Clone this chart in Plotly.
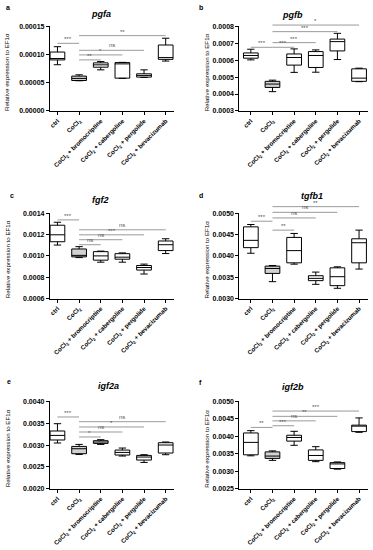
import plotly.graph_objects as go

# ---------------- data ----------------
groups = ["ctrl", "CoCl<sub>2</sub>", "CoCl<sub>2</sub> + bromocriptine",
          "CoCl<sub>2</sub> + cabergoline", "CoCl<sub>2</sub> + pergolide",
          "CoCl<sub>2</sub> + bevacizumab"]

# panel a: pgfa
pgfa_min = [0.0000820, 0.0000535, 0.0000729, 0.0000578, 0.0000594, 0.0000885]
pgfa_q1 = [0.0000905, 0.0000540, 0.0000776, 0.0000582, 0.0000600, 0.0000915]
pgfa_med = [0.0000930, 0.0000577, 0.0000818, 0.0000835, 0.0000630, 0.0000947]
pgfa_q3 = [0.0001045, 0.0000618, 0.0000853, 0.0000858, 0.0000659, 0.0001170]
pgfa_max = [0.0001140, 0.0000641, 0.0000876, 0.0000862, 0.0000729, 0.0001290]
pgfa_ticks = [0.0, 0.00005, 0.00010, 0.00015]
pgfa_sig_a = [0, 1, 1, 1, 1]
pgfa_sig_b = [1, 5, 4, 3, 2]
pgfa_sig_y = [0.000120, 0.0001336, 0.0001076, 0.0000994, 0.0000906]
pgfa_sig_t = ["***", "**", "ns", "*", "**"]

# panel b: pgfb
pgfb_min = [0.000602, 0.000414, 0.000528, 0.000529, 0.000604, 0.000473]
pgfb_q1 = [0.000612, 0.000439, 0.000571, 0.000557, 0.000655, 0.000475]
pgfb_med = [0.000628, 0.000459, 0.000616, 0.000628, 0.000710, 0.000494]
pgfb_q3 = [0.000643, 0.000475, 0.000637, 0.000651, 0.000725, 0.000549]
pgfb_max = [0.000665, 0.000482, 0.000667, 0.000661, 0.000759, 0.000553]
pgfb_ticks = [0.0003, 0.0004, 0.0005, 0.0006, 0.0007, 0.0008]
pgfb_sig_a = [0, 1, 1, 1, 1]
pgfb_sig_b = [1, 2, 3, 4, 5]
pgfb_sig_y = [0.0006765, 0.0006765, 0.000704, 0.000769, 0.000808]
pgfb_sig_t = ["***", "***", "***", "***", "*"]

# panel c: fgf2
fgf2_min = [0.001102, 0.000984, 0.000941, 0.000941, 0.000830, 0.001022]
fgf2_q1 = [0.001133, 0.000991, 0.000960, 0.000969, 0.000867, 0.001050]
fgf2_med = [0.001198, 0.001005, 0.001000, 0.000988, 0.000891, 0.001105]
fgf2_q3 = [0.001288, 0.001065, 0.001040, 0.001021, 0.000910, 0.001140]
fgf2_max = [0.001316, 0.001087, 0.001045, 0.001028, 0.000923, 0.001161]
fgf2_ticks = [0.0006, 0.0008, 0.0010, 0.0012, 0.0014]
fgf2_sig_a = [0, 1, 1, 1, 1]
fgf2_sig_b = [1, 5, 4, 3, 2]
fgf2_sig_y = [0.001338, 0.001245, 0.001198, 0.001152, 0.001105]
fgf2_sig_t = ["***", "ns", "***", "ns", "ns"]

# panel d: tgfb1
tgfb1_min = [0.004062, 0.003395, 0.003806, 0.003333, 0.003240, 0.003691]
tgfb1_q1 = [0.004194, 0.003589, 0.003837, 0.003419, 0.003302, 0.003837]
tgfb1_med = [0.004365, 0.003705, 0.004124, 0.003473, 0.003512, 0.004309]
tgfb1_q3 = [0.004682, 0.003760, 0.004434, 0.003535, 0.003720, 0.004402]
tgfb1_max = [0.004737, 0.003775, 0.004527, 0.003620, 0.003744, 0.004605]
tgfb1_ticks = [0.0030, 0.0035, 0.0040, 0.0045, 0.0050]
tgfb1_sig_a = [0, 1, 1, 1, 1]
tgfb1_sig_b = [1, 2, 3, 4, 5]
tgfb1_sig_y = [0.004814, 0.004605, 0.004891, 0.005023, 0.005156]
tgfb1_sig_t = ["***", "**", "ns", "ns", "**"]

# panel e: igf2a
igf2a_min = [0.003047, 0.002786, 0.003015, 0.002749, 0.002603, 0.002779]
igf2a_q1 = [0.003116, 0.002802, 0.003038, 0.002772, 0.002657, 0.002818]
igf2a_med = [0.003221, 0.002916, 0.003070, 0.002832, 0.002726, 0.003001]
igf2a_q3 = [0.003322, 0.002969, 0.003100, 0.002886, 0.002763, 0.003054]
igf2a_max = [0.003489, 0.003015, 0.003123, 0.002932, 0.002779, 0.003070]
igf2a_ticks = [0.0020, 0.0025, 0.0030, 0.0035, 0.0040]
igf2a_sig_a = [0, 1, 1, 1, 1]
igf2a_sig_b = [1, 5, 4, 3, 2]
igf2a_sig_y = [0.003643, 0.003535, 0.003414, 0.003299, 0.003185]
igf2a_sig_t = ["***", "ns", "*", "ns", "*"]

# panel f: igf2b
igf2b_min = [0.003443, 0.003312, 0.003743, 0.003275, 0.003060, 0.004115]
igf2b_q1 = [0.003471, 0.003368, 0.003863, 0.003312, 0.003079, 0.004135]
igf2b_med = [0.003827, 0.003435, 0.003967, 0.003452, 0.003210, 0.004303]
igf2b_q3 = [0.004096, 0.003555, 0.004031, 0.003611, 0.003247, 0.004320]
igf2b_max = [0.004163, 0.003583, 0.004143, 0.003704, 0.003267, 0.004527]
igf2b_ticks = [0.0025, 0.0030, 0.0035, 0.0040, 0.0045, 0.0050]
igf2b_sig_a = [0, 1, 1, 1, 1]
igf2b_sig_b = [1, 2, 3, 4, 5]
igf2b_sig_y = [0.004255, 0.004303, 0.004443, 0.004572, 0.004723]
igf2b_sig_t = ["**", "***", "ns", "**", "***"]

# ---------------- layout geometry ----------------
W, H = 373, 550
FONT = "Liberation Sans, Arial, sans-serif"

def px_x(v):
    return v / W

def px_y(v):
    return 1 - v / H

col_dom = [(px_x(49), px_x(173.8)), (px_x(239), px_x(367.7))]
col_rng = [(-0.35, 5.4), (-0.53, 5.4)]
row_dom = [(px_y(108.3), px_y(22.7)), (px_y(298.3), px_y(212)),
           (px_y(491), px_y(402.5))]

panels = [
    dict(name="pgfa", letter="a", mn=pgfa_min, q1=pgfa_q1, med=pgfa_med, q3=pgfa_q3, mx=pgfa_max,
         ticks=pgfa_ticks, fmt=".5f", sa=pgfa_sig_a, sb=pgfa_sig_b, sy=pgfa_sig_y, st=pgfa_sig_t,
         title_xy=(100, 10), letter_xy=(3, 4)),
    dict(name="pgfb", letter="b", mn=pgfb_min, q1=pgfb_q1, med=pgfb_med, q3=pgfb_q3, mx=pgfb_max,
         ticks=pgfb_ticks, fmt=".4f", sa=pgfb_sig_a, sb=pgfb_sig_b, sy=pgfb_sig_y, st=pgfb_sig_t,
         title_xy=(292, 11), letter_xy=(197, 4)),
    dict(name="fgf2", letter="c", mn=fgf2_min, q1=fgf2_q1, med=fgf2_med, q3=fgf2_q3, mx=fgf2_max,
         ticks=fgf2_ticks, fmt=".4f", sa=fgf2_sig_a, sb=fgf2_sig_b, sy=fgf2_sig_y, st=fgf2_sig_t,
         title_xy=(100, 199), letter_xy=(7, 194)),
    dict(name="tgfb1", letter="d", mn=tgfb1_min, q1=tgfb1_q1, med=tgfb1_med, q3=tgfb1_q3, mx=tgfb1_max,
         ticks=tgfb1_ticks, fmt=".4f", sa=tgfb1_sig_a, sb=tgfb1_sig_b, sy=tgfb1_sig_y, st=tgfb1_sig_t,
         title_xy=(312, 194), letter_xy=(197, 194)),
    dict(name="igf2a", letter="e", mn=igf2a_min, q1=igf2a_q1, med=igf2a_med, q3=igf2a_q3, mx=igf2a_max,
         ticks=igf2a_ticks, fmt=".4f", sa=igf2a_sig_a, sb=igf2a_sig_b, sy=igf2a_sig_y, st=igf2a_sig_t,
         title_xy=(108, 387), letter_xy=(4, 382)),
    dict(name="igf2b", letter="f", mn=igf2b_min, q1=igf2b_q1, med=igf2b_med, q3=igf2b_q3, mx=igf2b_max,
         ticks=igf2b_ticks, fmt=".4f", sa=igf2b_sig_a, sb=igf2b_sig_b, sy=igf2b_sig_y, st=igf2b_sig_t,
         title_xy=(293, 388), letter_xy=(197, 383)),
]

fig = go.Figure()
shapes = []
annotations = []
layout_axes = {}

for i, p in enumerate(panels):
    r, c = i // 2, i % 2
    n = i + 1
    xa = "x" if n == 1 else f"x{n}"
    ya = "y" if n == 1 else f"y{n}"
    xkey = "xaxis" if n == 1 else f"xaxis{n}"
    ykey = "yaxis" if n == 1 else f"yaxis{n}"
    ymin, ymax = p["ticks"][0], p["ticks"][-1]
    ydom = row_dom[r]

    for k in range(len(groups)):
        fill = "#d2d2d2" if k == 1 else "white"
        fig.add_trace(go.Box(
            x=[k], q1=[p["q1"][k]], median=[p["med"][k]], q3=[p["q3"][k]],
            lowerfence=[p["mn"][k]], upperfence=[p["mx"][k]],
            width=0.68, whiskerwidth=0.5, fillcolor=fill,
            line=dict(color="black", width=1), boxpoints=False,
            showlegend=False, hoverinfo="skip", xaxis=xa, yaxis=ya))

    layout_axes[xkey] = dict(
        domain=list(col_dom[c]), range=list(col_rng[c]), anchor=ya,
        tickvals=list(range(len(groups))), ticktext=groups, tickangle=-45,
        tickfont=dict(family=FONT, size=6.2, color="black", weight="bold"),
        showline=True, linecolor="black", linewidth=1, ticks="outside",
        ticklen=3, tickcolor="black", showgrid=False, zeroline=False,
        fixedrange=True)
    layout_axes[ykey] = dict(
        domain=list(ydom), range=[ymin, ymax], anchor=xa,
        tickvals=p["ticks"], tickformat=p["fmt"],
        tickfont=dict(family=FONT, size=7, color="black", weight="bold"),
        showline=True, linecolor="black", linewidth=1, ticks="outside",
        ticklen=3, tickcolor="black", showgrid=False, zeroline=False,
        fixedrange=True)

    def to_paper(v, ydom=ydom, ymin=ymin, ymax=ymax):
        return ydom[0] + (v - ymin) / (ymax - ymin) * (ydom[1] - ydom[0])

    for a, b, yv, t in zip(p["sa"], p["sb"], p["sy"], p["st"]):
        yp = to_paper(yv)
        shapes.append(dict(type="line", xref=xa, yref="paper", x0=a, x1=b,
                           y0=yp, y1=yp, line=dict(color="#9a9a9a", width=1)))
        annotations.append(dict(x=(a + b) / 2, y=yp, xref=xa, yref="paper",
                                text=t, showarrow=False, yanchor="bottom",
                                yshift=-1 if "*" in t else 0,
                                font=dict(family=FONT, size=6, color="#555555")))

    # panel title
    tx, ty = p["title_xy"]
    annotations.append(dict(x=px_x(tx), y=px_y(ty), xref="paper", yref="paper",
                            text=f"<b><i>{p['name']}</i></b>", showarrow=False,
                            xanchor="center", yanchor="middle",
                            font=dict(family=FONT, size=9, color="black")))
    # panel letter
    lx, ly = p["letter_xy"]
    annotations.append(dict(x=px_x(lx), y=px_y(ly), xref="paper", yref="paper",
                            text=f"<b>{p['letter']}</b>", showarrow=False,
                            xanchor="left", yanchor="middle",
                            font=dict(family=FONT, size=7, color="black")))
    # y-axis title
    ytx = 6 if c == 0 else 206
    annotations.append(dict(x=px_x(ytx), y=(ydom[0] + ydom[1]) / 2 - 0.006,
                            xref="paper", yref="paper",
                            text="Relative expression to EF1α", textangle=-90,
                            showarrow=False, xanchor="center", yanchor="middle",
                            font=dict(family=FONT, size=6.2, color="black")))

fig.update_layout(
    width=W, height=H, autosize=False,
    margin=dict(l=0, r=0, t=0, b=0),
    paper_bgcolor="white", plot_bgcolor="white",
    shapes=shapes, annotations=annotations, showlegend=False,
    hovermode=False, dragmode=False,
    **layout_axes)

fig.write_html(
    "out.html",
    config={"displayModeBar": False, "staticPlot": True},
    post_script="document.body.style.margin='0';document.body.style.padding='0';"
                "document.documentElement.style.overflow='hidden';")
